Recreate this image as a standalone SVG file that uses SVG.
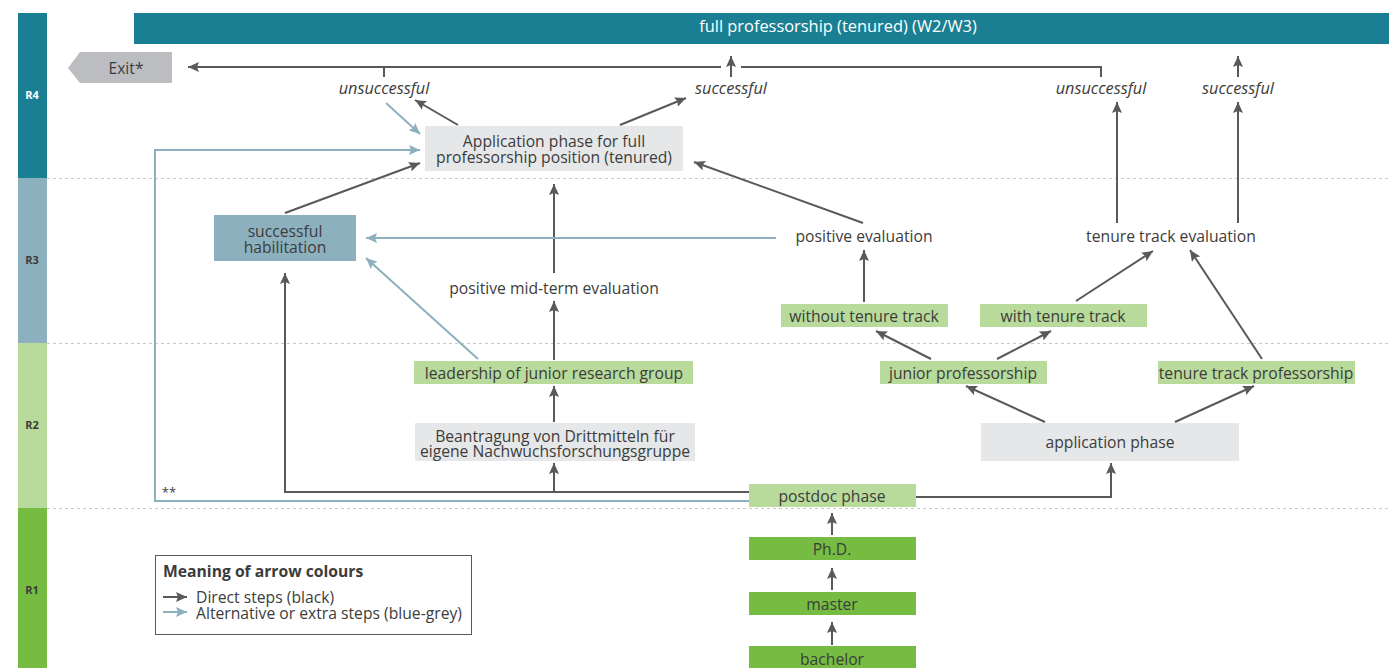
<svg xmlns="http://www.w3.org/2000/svg" width="1389" height="668" viewBox="0 0 1389 668">
<style>
text{font-family:"Open Sans","Noto Sans","Liberation Sans",sans-serif;font-size:15.7px;fill:#3c3c3b;text-anchor:middle}
.it{font-style:italic;font-size:16.3px}
.wt{fill:#ffffff}
.top{font-size:16.4px}
.band{font-size:11px;font-weight:bold}
.lg{text-anchor:start}
.c{fill:none;stroke:#58595b;stroke-width:2;marker-end:url(#ad)}
.cn{fill:none;stroke:#58595b;stroke-width:2}
.b{fill:none;stroke:#8db0bf;stroke-width:2;marker-end:url(#ab)}
.bn{fill:none;stroke:#8db0bf;stroke-width:2}
.dot{stroke:#c8c8c8;stroke-width:1;stroke-dasharray:3 3}
.gray{fill:#e6e7e8}
.lgreen{fill:#b8da9a}
.green{fill:#76bc43}
.blue{fill:#8db0bf}
.teal{fill:#1a7f93}
</style>
<defs>
<marker id="ad" markerUnits="userSpaceOnUse" markerWidth="12" markerHeight="10" refX="11" refY="5" orient="auto"><path d="M0,0 L11,5 L0,10 L2,5 z" fill="#58595b"/></marker>
<marker id="ab" markerUnits="userSpaceOnUse" markerWidth="12" markerHeight="10" refX="11" refY="5" orient="auto"><path d="M0,0 L11,5 L0,10 L2,5 z" fill="#8db0bf"/></marker>
</defs>
<rect width="1389" height="668" fill="#ffffff"/>
<g id="bands">
<rect x="18" y="13" width="29" height="165" class="teal"/>
<rect x="18" y="178" width="29" height="165" class="blue"/>
<rect x="18" y="343" width="29" height="165" class="lgreen"/>
<rect x="18" y="508" width="29" height="160" class="green"/>
<text x="32" y="99" class="band wt">R4</text>
<text x="32" y="264" class="band">R3</text>
<text x="32" y="429" class="band">R2</text>
<text x="32" y="594" class="band">R1</text>
<line x1="47" y1="178.5" x2="1389" y2="178.5" class="dot"/>
<line x1="47" y1="343.5" x2="1389" y2="343.5" class="dot"/>
<line x1="47" y1="508.5" x2="1389" y2="508.5" class="dot"/>
</g>
<g id="full-professorship">
<rect x="134" y="13" width="1255" height="31" class="teal"/>
<text x="838" y="32" class="wt top">full professorship (tenured) (W2/W3)</text>
</g>
<g id="exit">
<polygon points="68,68 80,52 172,52 172,83 80,83" fill="#bcbdc1"/>
<text x="126" y="73.5">Exit*</text>
</g>
<g id="labels">
<text x="384" y="94" class="it">unsuccessful</text>
<text x="731" y="94" class="it">successful</text>
<text x="1101" y="94" class="it">unsuccessful</text>
<text x="1238" y="94" class="it">successful</text>
<text x="864" y="241.5">positive evaluation</text>
<text x="1171" y="241.5">tenure track evaluation</text>
<text x="554" y="293.5">positive mid-term evaluation</text>
</g>
<g id="application-full">
<rect x="425" y="126" width="258" height="45" class="gray"/>
<text x="554" y="146.5"><tspan x="554">Application phase for full</tspan><tspan x="554" dy="16">professorship position (tenured)</tspan></text>
</g>
<g id="habilitation">
<rect x="214" y="215" width="142" height="46" class="blue"/>
<text x="285" y="236.5"><tspan x="285">successful</tspan><tspan x="285" dy="16">habilitation</tspan></text>
</g>
<g id="without-tt">
<rect x="781" y="304" width="167" height="23" class="lgreen"/>
<text x="864" y="321.5">without tenure track</text>
</g>
<g id="with-tt">
<rect x="980" y="304" width="167" height="23" class="lgreen"/>
<text x="1063" y="321.5">with tenure track</text>
</g>
<g id="leadership">
<rect x="414" y="361" width="279" height="23" class="lgreen"/>
<text x="554" y="378.5">leadership of junior research group</text>
</g>
<g id="junior-prof">
<rect x="880" y="361" width="167" height="23" class="lgreen"/>
<text x="963" y="378.5">junior professorship</text>
</g>
<g id="tt-prof">
<rect x="1158" y="361" width="197" height="23" class="lgreen"/>
<text x="1256" y="378.5">tenure track professorship</text>
</g>
<g id="beantragung">
<rect x="415" y="423" width="280" height="38" class="gray"/>
<text x="555" y="441.5"><tspan x="555">Beantragung von Drittmitteln für</tspan><tspan x="555" dy="15">eigene Nachwuchsforschungsgruppe</tspan></text>
</g>
<g id="application-phase">
<rect x="981" y="423" width="258" height="38" class="gray"/>
<text x="1110" y="447.5">application phase</text>
</g>
<g id="postdoc">
<rect x="749" y="484" width="167" height="23" class="lgreen"/>
<text x="832" y="501.5">postdoc phase</text>
</g>
<g id="phd">
<rect x="749" y="537" width="167" height="23" class="green"/>
<text x="832" y="554.5">Ph.D.</text>
</g>
<g id="master">
<rect x="749" y="592" width="167" height="23" class="green"/>
<text x="832" y="609.5">master</text>
</g>
<g id="bachelor">
<rect x="749" y="646" width="167" height="23" class="green"/>
<text x="832" y="664.5">bachelor</text>
</g>
<g id="connectors">
<path d="M1101,77 V67 H741" class="cn"/>
<path d="M721,67 H188" class="c"/>
<path d="M384,77 V67" class="cn"/>
<path d="M731,77 V56" class="c"/>
<path d="M1238,77 V56" class="c"/>
<path d="M1117,223 V102" class="c"/>
<path d="M1238,223 V102" class="c"/>
<path d="M458,125 L415,100" class="c"/>
<path d="M620,125 L686,98" class="c"/>
<path d="M285,213 L420,163" class="c"/>
<path d="M554,273 V184" class="c"/>
<path d="M863,223 L694,162" class="c"/>
<path d="M554,360 V301" class="c"/>
<path d="M554,422 V386" class="c"/>
<path d="M749,492 H285 V273" class="c"/>
<path d="M554,492 V463" class="c"/>
<path d="M916,497 H1111 V463" class="c"/>
<path d="M1045,422 L966,386" class="c"/>
<path d="M1175,422 L1254,386" class="c"/>
<path d="M931,359 L876,331" class="c"/>
<path d="M997,359 L1051,331" class="c"/>
<path d="M864,302 V250" class="c"/>
<path d="M1076,301 L1153,251" class="c"/>
<path d="M1262,359 L1190,250" class="c"/>
<path d="M832,535 V513" class="c"/>
<path d="M832,590 V568" class="c"/>
<path d="M832,645 V622" class="c"/>
<path d="M386,103 L420,134" class="b"/>
<path d="M749,501 H155 V150 H420" class="b"/>
<path d="M776,238 H366" class="b"/>
<path d="M478,359 L366,258" class="b"/>
<text x="169" y="497" style="font-size:13px">**</text>
</g>
<g id="legend">
<rect x="155.5" y="555.5" width="316" height="79" fill="#ffffff" stroke="#58595b" stroke-width="1"/>
<text x="163" y="576.5" class="lg" style="font-weight:bold">Meaning of arrow colours</text>
<path d="M163,597 H187" class="c"/>
<path d="M163,612 H187" class="b"/>
<text x="196" y="602.5" class="lg"><tspan x="196">Direct steps (black)</tspan><tspan x="196" dy="16">Alternative or extra steps (blue-grey)</tspan></text>
</g>
</svg>
